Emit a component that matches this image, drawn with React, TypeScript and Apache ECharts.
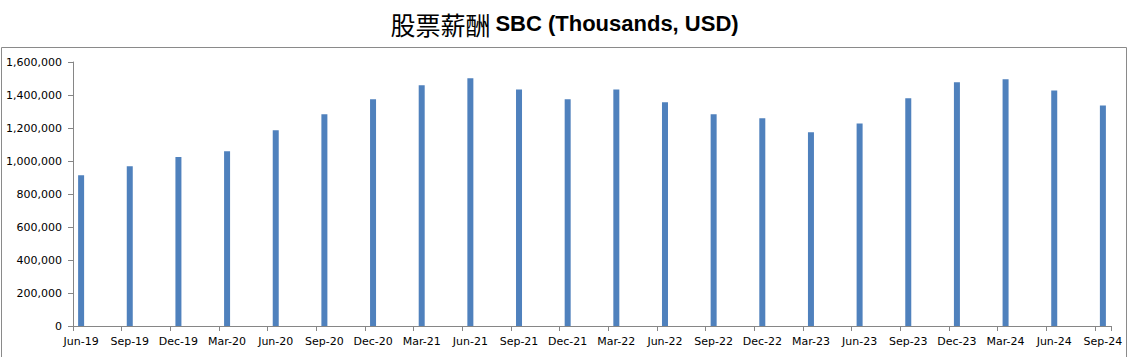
import React, { useEffect, useRef } from "react";
import * as echarts from "echarts";

const quarters = [
  "Jun-19", "Sep-19", "Dec-19", "Mar-20", "Jun-20", "Sep-20", "Dec-20", "Mar-21",
  "Jun-21", "Sep-21", "Dec-21", "Mar-22", "Jun-22", "Sep-22", "Dec-22", "Mar-23",
  "Jun-23", "Sep-23", "Dec-23", "Mar-24", "Jun-24", "Sep-24",
];

const sbcValues = [
  913000, 968000, 1024000, 1059000, 1186000, 1283000, 1374000, 1459000,
  1501000, 1434000, 1374000, 1434000, 1356000, 1283000, 1259000, 1174000,
  1228000, 1380000, 1477000, 1495000, 1428000, 1337000,
];

const yTicks = { min: 0, max: 1600000, interval: 200000 };

export default function App() {
  const ref = useRef<HTMLDivElement>(null);

  useEffect(() => {
    if (!ref.current) return;
    const chart = echarts.init(ref.current, null, { renderer: "svg" });

    // Date-like axis: one slot per month, bars only at quarter ends
    const monthCats: string[] = [];
    const monthVals: (number | string)[] = [];
    quarters.forEach((q, i) => {
      monthCats.push(q);
      monthVals.push(sbcValues[i]);
      if (i < quarters.length - 1) {
        monthCats.push("", "");
        monthVals.push("-", "-");
      }
    });

    chart.setOption({
      animation: false,
      backgroundColor: "#ffffff",
      title: {
        text: "{zh|股票薪酬} {en|SBC (Thousands, USD)}",
        left: "center",
        top: 6,
        textStyle: {
          rich: {
            zh: {
              fontFamily: "Noto Sans CJK SC",
              fontSize: 25,
              fontWeight: "normal",
              color: "#000",
            },
            en: {
              fontFamily: "Liberation Sans",
              fontSize: 22,
              fontWeight: "bold",
              color: "#000",
            },
          },
        },
      },
      graphic: [
        {
          type: "rect",
          shape: { x: 1.5, y: 47.5, width: 1125, height: 330 },
          style: { fill: "none", stroke: "#8a8a8a", lineWidth: 1 },
          silent: true,
        },
      ],
      grid: { left: 73, right: 18, top: 62, bottom: 31, containLabel: false },
      xAxis: {
        type: "category",
        data: monthCats,
        boundaryGap: true,
        axisLine: { show: true, lineStyle: { color: "#868686", width: 1 } },
        axisTick: {
          show: true,
          length: 5,
          interval: (index: number) => index % 3 === 0,
          lineStyle: { color: "#868686" },
        },
        axisLabel: {
          interval: 0,
          margin: 10,
          fontFamily: "DejaVu Sans",
          fontSize: 11,
          color: "#000",
        },
        splitLine: { show: false },
      },
      yAxis: {
        type: "value",
        min: yTicks.min,
        max: yTicks.max,
        interval: yTicks.interval,
        axisLine: { show: true, lineStyle: { color: "#868686", width: 1 } },
        axisTick: { show: true, length: 5, lineStyle: { color: "#868686" } },
        axisLabel: {
          margin: 11,
          fontFamily: "DejaVu Sans",
          fontSize: 11,
          color: "#000",
          formatter: (v: number) => v.toLocaleString("en-US"),
        },
        splitLine: { show: false },
      },
      series: [
        {
          type: "bar",
          data: monthVals,
          barWidth: 6,
          itemStyle: { color: "#4F81BD" },
        },
      ],
    });

    return () => chart.dispose();
  }, []);

  return (
    <div
      ref={ref}
      style={{ width: 1129, height: 357, position: "absolute", left: 0, top: 0 }}
    />
  );
}
